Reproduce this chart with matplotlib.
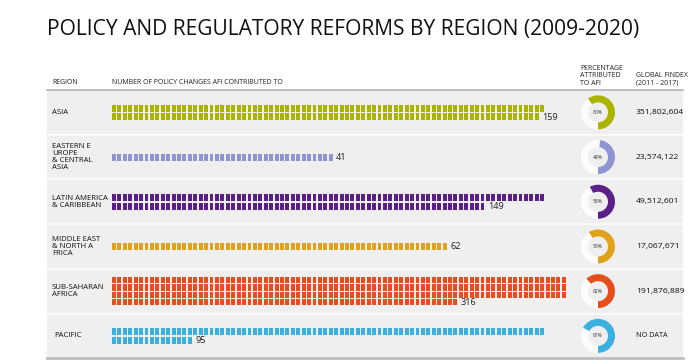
import matplotlib
matplotlib.use("Agg")
import matplotlib.pyplot as plt
from matplotlib.patches import Rectangle, Wedge
import numpy as np

plt.rcParams["font.family"] = ["Open Sans", "DejaVu Sans"]

REGIONS = ["ASIA", "EASTERN E\nUROPE\n& CENTRAL\nASIA", "LATIN AMERICA\n& CARIBBEAN",
           "MIDDLE EAST\n& NORTH A\nFRICA", "SUB-SAHARAN\nAFRICA", "PACIFIC"]
POLICY_CHANGES = [159, 41, 149, 62, 316, 95]
PCT_AFI = [60, 48, 58, 59, 62, 67]
FINDEX = ["351,802,604", "23,574,122", "49,512,601", "17,067,671", "191,876,889", "NO DATA"]
COLORS = ["#a9b300", "#8e95d2", "#5a1f88", "#e0a21c", "#e64f1c", "#3aafe0"]

# layout (pixel units, y grows downward)
ROW_TOP = 90
ROW_H = 44.7
X_WAFFLE = 112
STEP_X = 5.42
PER_ROW = [80, 80, 80, 80, 84, 80]
DONUT_X = 598
FINDEX_X = 636

fig = plt.figure(figsize=(7, 3.63), dpi=100, facecolor="white")
ax = fig.add_axes([0, 0, 1, 1])
ax.set_xlim(0, 700)
ax.set_ylim(363, 0)
ax.axis("off")

ax.text(47, 30, "POLICY AND REGULATORY REFORMS BY REGION (2009-2020)",
        fontsize=15.1, va="center", ha="left", color="#111111")

# headers
hkw = dict(fontsize=5.0, color="#222222", va="bottom", ha="left", linespacing=1.15)
ax.text(52, 86, "REGION", **hkw)
ax.text(112, 86, "NUMBER OF POLICY CHANGES AFI CONTRIBUTED TO", **hkw)
ax.text(580, 87, "PERCENTAGE\nATTRIBUTED\nTO AFI", **hkw)
ax.text(636, 87, "GLOBAL FINDEX\n(2011 - 2017)", **hkw)

n = len(REGIONS)
ax.add_patch(Rectangle((47, ROW_TOP), 636, ROW_H * n, facecolor="#efefef",
                       edgecolor="none", zorder=0))
ax.plot([47, 683], [ROW_TOP, ROW_TOP], color="#b5b5b5", lw=1.2, zorder=1)
for i in range(1, n):
    y = ROW_TOP + i * ROW_H
    ax.plot([47, 683], [y, y], color="#fafafa", lw=1.5, zorder=1)
ax.plot([47, 683], [ROW_TOP + n * ROW_H] * 2, color="#bdbdbd", lw=2, zorder=1)

for i, (name, val, pct, fx, col) in enumerate(zip(REGIONS, POLICY_CHANGES, PCT_AFI, FINDEX, COLORS)):
    cy = ROW_TOP + (i + 0.5) * ROW_H
    ax.text(52 + (2 if name == "PACIFIC" else 0), cy, name, fontsize=5.6, va="center",
            ha="left", color="#111111", linespacing=1.0)

    per = PER_ROW[i]
    nrows = int(np.ceil(val / per))
    step_y = 7.4 if nrows > 2 else 8.6
    h = 6.2 if nrows > 2 else 7.0
    y0 = cy - (nrows - 1) * step_y / 2
    for k in range(val):
        r, c = divmod(k, per)
        x = X_WAFFLE + c * STEP_X
        y = y0 + r * step_y
        ax.add_patch(Rectangle((x, y - h / 2), 3.9, h, facecolor=col,
                               edgecolor="none", zorder=2))
    last_r, last_c = divmod(val - 1, per)
    ax.text(X_WAFFLE + (last_c + 1) * STEP_X + 2, y0 + last_r * step_y + 0.5, str(val),
            fontsize=6.6, va="center", ha="left", color="#222222")

    # donut (clockwise from 12 o'clock)
    ang = 360 * pct / 100
    ax.add_patch(Wedge((DONUT_X, cy), 17, 90 - 360, 90, width=7,
                       facecolor="#fcfcfc", edgecolor="none", zorder=2))
    ax.add_patch(Wedge((DONUT_X, cy), 17, 90 - ang, 90, width=7,
                       facecolor=col, edgecolor="none", zorder=3))
    ax.text(DONUT_X, cy, f"{pct}%", fontsize=3.6, ha="center", va="center",
            color="#333333", zorder=4)

    ax.text(FINDEX_X, cy, fx, fontsize=6.1 if fx != "NO DATA" else 5.2,
            ha="left", va="center", color="#111111")

fig.savefig("out.png", dpi=100, facecolor="white")
